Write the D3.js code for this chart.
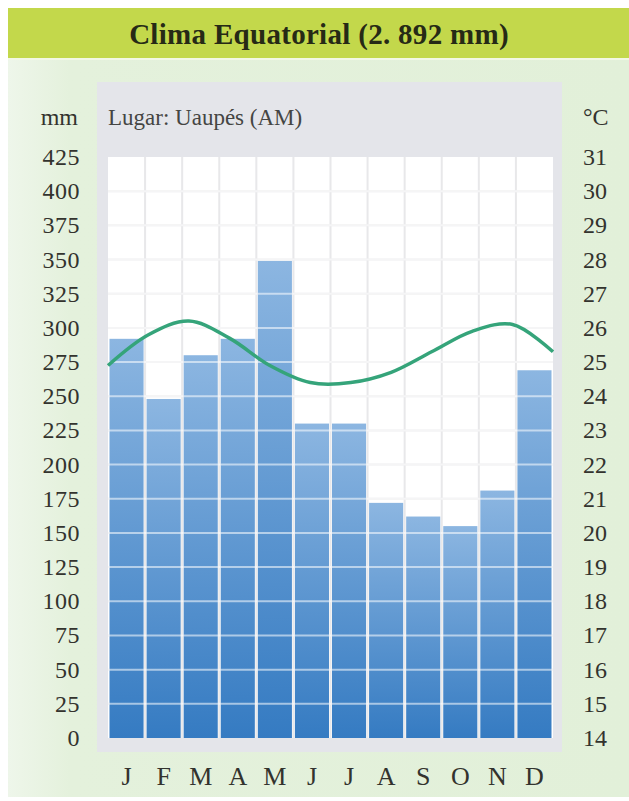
<!DOCTYPE html>
<html>
<head>
<meta charset="utf-8">
<script src="https://cdn.jsdelivr.net/npm/d3@7"></script>
<style>
  body { margin: 0; background: #fff; }
  text { font-family: "Liberation Serif", "DejaVu Serif", serif; fill: #33332e; }
</style>
</head>
<body>
<script>
var months = ["J", "F", "M", "A", "M", "J", "J", "A", "S", "O", "N", "D"];
var rain = [292, 248, 280, 292, 349, 230, 230, 172, 162, 155, 181, 269];
var temp = [24.9, 25.8, 26.2, 25.7, 24.9, 24.4, 24.4, 24.7, 25.3, 25.9, 26.1, 25.3];
var mmTicks = d3.range(0, 426, 25);
var cTicks = d3.range(14, 32, 1);

var width = 629, height = 801;
var pLeft = 108, pRight = 553, pTop = 157, pBottom = 738;

var svg = d3.select("body").append("svg")
    .attr("width", width)
    .attr("height", height);

var defs = svg.append("defs");
var grad = defs.append("linearGradient")
    .attr("id", "barGrad")
    .attr("x1", 0).attr("y1", 0).attr("x2", 0).attr("y2", 1);
grad.append("stop").attr("offset", "0%").attr("stop-color", "#8cb6e1");
grad.append("stop").attr("offset", "100%").attr("stop-color", "#357bc2");

var bg = defs.append("linearGradient")
    .attr("id", "bgGrad")
    .attr("x1", 0).attr("y1", 0).attr("x2", 1).attr("y2", 0);
bg.append("stop").attr("offset", "0%").attr("stop-color", "#eef6ea");
bg.append("stop").attr("offset", "10%").attr("stop-color", "#e4f1dc");
bg.append("stop").attr("offset", "100%").attr("stop-color", "#e2f0d9");

// panels
svg.append("rect").attr("x", 8).attr("y", 58).attr("width", width - 8).attr("height", 739)
    .attr("fill", "url(#bgGrad)");
svg.append("rect").attr("x", 8).attr("y", 8).attr("width", width - 8).attr("height", 50)
    .attr("fill", "#c3d84b");
svg.append("line").attr("x1", 8).attr("x2", width).attr("y1", 59).attr("y2", 59)
    .attr("stroke", "#f2f8e4").attr("stroke-width", 2);
svg.append("rect").attr("x", 97).attr("y", 82).attr("width", 465).attr("height", 670)
    .attr("fill", "#e4e5ea");
svg.append("rect").attr("x", pLeft).attr("y", pTop).attr("width", pRight - pLeft).attr("height", pBottom - pTop)
    .attr("fill", "#ffffff");

svg.append("text")
    .attr("x", 319).attr("y", 44)
    .attr("text-anchor", "middle")
    .attr("font-size", 29).attr("font-weight", "bold")
    .attr("letter-spacing", 0.3)
    .style("fill", "#262a16")
    .text("Clima Equatorial (2. 892 mm)");

var x = d3.scaleBand().domain(d3.range(12)).range([pLeft, pRight]).padding(0);
var y = d3.scaleLinear().domain([0, 425]).range([pBottom, pTop]);
var y2 = d3.scaleLinear().domain([14, 31]).range([pBottom, pTop]);
var xt = d3.scalePoint().domain(d3.range(12)).range([pLeft, pRight]);

// grid behind bars
var grid = svg.append("g");
grid.selectAll("line.h").data(mmTicks.slice(1, -1)).enter().append("line")
    .attr("x1", pLeft).attr("x2", pRight)
    .attr("y1", function(d) { return y(d); }).attr("y2", function(d) { return y(d); })
    .attr("stroke", "#e8e8ea").attr("stroke-width", 2);
grid.selectAll("line.v").data(d3.range(1, 12)).enter().append("line")
    .attr("y1", pTop).attr("y2", pBottom)
    .attr("x1", function(d) { return x(d); }).attr("x2", function(d) { return x(d); })
    .attr("stroke", "#e8e8ea").attr("stroke-width", 2);

svg.append("g").selectAll("rect").data(rain).enter().append("rect")
    .attr("x", function(d, i) { return x(i) + 1.5; })
    .attr("width", x.bandwidth() - 3)
    .attr("y", function(d) { return y(d); })
    .attr("height", function(d) { return pBottom - y(d); })
    .attr("fill", "url(#barGrad)");

// white grid over bars
var wg = svg.append("g");
wg.selectAll("line").data(mmTicks.slice(1, -1)).enter().append("line")
    .attr("x1", pLeft).attr("x2", pRight)
    .attr("y1", function(d) { return y(d); }).attr("y2", function(d) { return y(d); })
    .attr("stroke", "#ffffff").attr("stroke-opacity", 0.55).attr("stroke-width", 2);

// temperature line
var line = d3.line()
    .x(function(d, i) { return xt(i); })
    .y(function(d) { return y2(d); })
    .curve(d3.curveCatmullRom);
svg.append("path").datum(temp)
    .attr("d", line)
    .attr("fill", "none")
    .attr("stroke", "#35a47a")
    .attr("stroke-width", 3.5);

// axes labels
svg.append("g").selectAll("text").data(mmTicks).enter().append("text")
    .attr("x", 80).attr("y", function(d) { return y(d) + 8; })
    .attr("text-anchor", "end").attr("font-size", 24)
    .attr("letter-spacing", 0.5)
    .text(function(d) { return d; });
svg.append("g").selectAll("text").data(cTicks).enter().append("text")
    .attr("x", 583).attr("y", function(d) { return y2(d) + 8; })
    .attr("font-size", 24)
    .text(function(d) { return d; });

svg.append("text").attr("x", 78).attr("y", 125).attr("text-anchor", "end")
    .attr("font-size", 24).text("mm");
svg.append("text").attr("x", 583).attr("y", 125)
    .attr("font-size", 24).text("°C");
svg.append("text").attr("x", 108).attr("y", 125)
    .attr("font-size", 23).style("fill", "#454543").text("Lugar: Uaupés (AM)");

svg.append("g").selectAll("text").data(months).enter().append("text")
    .attr("x", function(d, i) { return x(i) + x.bandwidth() / 2; })
    .attr("y", 785)
    .attr("text-anchor", "middle").attr("font-size", 26)
    .text(function(d) { return d; });
</script>
</body>
</html>
